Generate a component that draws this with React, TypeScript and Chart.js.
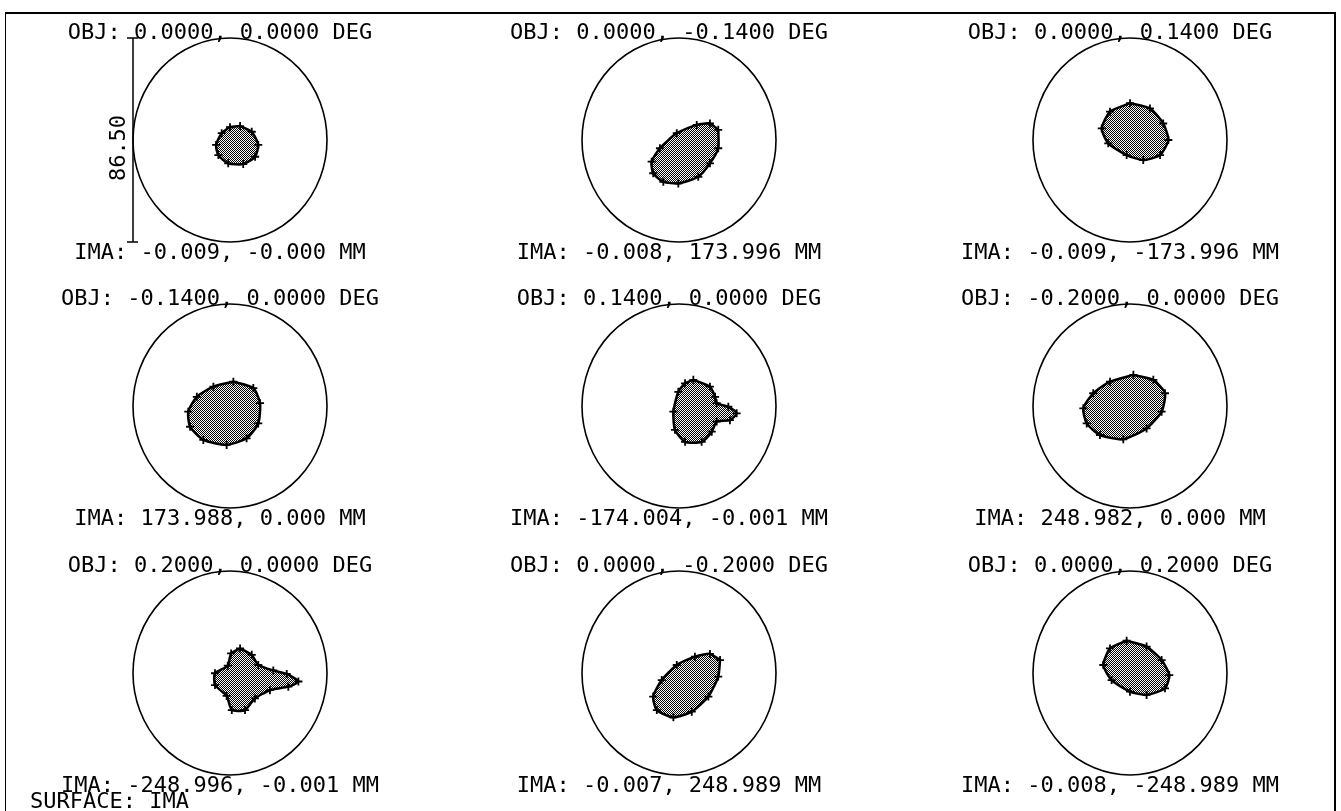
import React, { useEffect, useRef } from 'react';
import { Chart, registerables } from 'chart.js';

Chart.register(...registerables);

// ---------- data ----------
const AIRY_DIAMETER_UM = 86.5;
const SCALE_BAR_LABEL = '86.50';
const SURFACE_LABEL = 'SURFACE: IMA';

const OBJ_LABELS = [
  'OBJ: 0.0000, 0.0000 DEG',
  'OBJ: 0.0000, -0.1400 DEG',
  'OBJ: 0.0000, 0.1400 DEG',
  'OBJ: -0.1400, 0.0000 DEG',
  'OBJ: 0.1400, 0.0000 DEG',
  'OBJ: -0.2000, 0.0000 DEG',
  'OBJ: 0.2000, 0.0000 DEG',
  'OBJ: 0.0000, -0.2000 DEG',
  'OBJ: 0.0000, 0.2000 DEG',
];

const IMA_LABELS = [
  'IMA: -0.009, -0.000 MM',
  'IMA: -0.008, 173.996 MM',
  'IMA: -0.009, -173.996 MM',
  'IMA: 173.988, 0.000 MM',
  'IMA: -174.004, -0.001 MM',
  'IMA: 248.982, 0.000 MM',
  'IMA: -248.996, -0.001 MM',
  'IMA: -0.007, 248.989 MM',
  'IMA: -0.008, -248.989 MM',
];

// spot outlines, micrometres relative to the panel centre
const SPOT_1: number[][] = [
  [4.5, 5.9], [9.7, 3.5], [12.6, -2.1], [11.2, -7.1], [5.9, -10.2],
  [-0.8, -9.9], [-5.2, -6.4], [-6.2, -2.1], [-3.7, 2.9], [0.0, 5.4],
];
const SPOT_2: number[][] = [
  [17.5, 4.3], [13.8, 7.0], [7.9, 6.4], [-1.0, 2.9], [-8.5, -3.5], [-12.2, -9.2],
  [-11.5, -14.1], [-7.0, -17.7], [-0.3, -18.4], [8.6, -15.6], [13.8, -9.9], [17.5, -3.5],
];
const SPOT_3: number[][] = [
  [0.0, 15.6], [8.9, 13.4], [14.8, 7.0], [17.1, 0.0], [13.4, -6.4],
  [5.9, -8.5], [-1.5, -6.4], [-9.7, -1.4], [-12.6, 4.9], [-8.9, 12.0],
];
const SPOT_4: number[][] = [
  [1.5, 10.3], [10.4, 7.6], [13.4, 1.2], [12.6, -7.4], [7.4, -13.7], [-1.5, -16.5],
  [-11.9, -14.4], [-17.8, -8.8], [-18.6, -2.4], [-14.8, 3.9], [-7.4, 8.2],
];
const SPOT_5: number[][] = [
  [6.4, 11.1], [13.8, 8.2], [16.1, 3.9], [16.8, 1.2], [22.0, -0.3], [25.7, -3.1],
  [22.7, -6.0], [16.8, -6.6], [14.6, -10.9], [10.1, -15.2], [2.7, -15.2],
  [-1.8, -10.1], [-2.5, -2.4], [-0.3, 6.0], [2.7, 9.6],
];
const SPOT_6: number[][] = [
  [1.5, 13.2], [10.4, 11.1], [15.6, 5.4], [14.1, -2.4], [7.4, -9.5], [-3.0, -14.1],
  [-13.4, -12.3], [-19.3, -7.4], [-20.8, -1.0], [-16.4, 5.4], [-8.9, 10.3],
];
const SPOT_7: number[][] = [
  [4.5, 10.4], [9.7, 7.7], [12.6, 3.4], [19.3, 1.1], [25.3, -0.4], [30.5, -3.6],
  [26.0, -5.8], [17.8, -7.3], [11.1, -10.8], [6.7, -15.7], [0.8, -15.7],
  [-1.5, -9.7], [-6.7, -5.1], [-6.7, -0.1], [-1.0, 3.1], [0.5, 8.3],
];
const SPOT_8: number[][] = [
  [18.3, 5.5], [13.8, 8.1], [7.1, 6.9], [-1.0, 3.4], [-7.7, -3.0], [-11.5, -10.0],
  [-9.9, -15.7], [-2.5, -18.8], [5.7, -16.4], [13.1, -10.0], [17.5, -1.5],
];
const SPOT_9: number[][] = [
  [-1.5, 13.7], [7.4, 11.2], [14.1, 5.5], [17.5, -0.9], [15.6, -6.5],
  [7.4, -9.3], [0.0, -7.9], [-8.2, -3.0], [-11.9, 3.4], [-8.9, 10.4],
];

const SPOTS = [SPOT_1, SPOT_2, SPOT_3, SPOT_4, SPOT_5, SPOT_6, SPOT_7, SPOT_8, SPOT_9];

// ---------- layout ----------
const COL_X = [230, 679, 1130];
const ROW_Y = [140, 406, 673];
const PANEL_W = 450;
const PANEL_H = 266;
const CIRCLE_W = 194;
const CIRCLE_H = 204;
const TEXT_DX = -10;
const FONT = '22px "DejaVu Sans Mono", monospace';

function makePattern(): CanvasPattern | string {
  const pc = document.createElement('canvas');
  pc.width = 4;
  pc.height = 4;
  const g = pc.getContext('2d');
  if (!g) return '#555';
  g.fillStyle = '#ffffff';
  g.fillRect(0, 0, 4, 4);
  g.fillStyle = '#000000';
  for (let x = 0; x < 4; x++) {
    for (let y = 0; y < 4; y++) {
      if ((x + y) % 2 === 0 && !(x === 1 && y === 1) && !(x === 3 && y === 3)) g.fillRect(x, y, 1, 1);
      if ((x + y) % 4 === 0 || (x - y + 4) % 4 === 0) g.fillRect(x, y, 1, 1);
    }
  }
  const p = g.createPattern(pc, 'repeat');
  return p || '#555';
}

const spotPanelPlugin = {
  id: 'spotPanel',
  beforeDatasetsDraw(chart: any, _args: any, opts: any) {
    const { ctx } = chart;
    const xs = chart.scales.x;
    const ys = chart.scales.y;
    const R = AIRY_DIAMETER_UM / 2;
    const cx = xs.getPixelForValue(0);
    const cy = ys.getPixelForValue(0);
    const rx = xs.getPixelForValue(R) - cx;
    const top = ys.getPixelForValue(R);
    const bot = ys.getPixelForValue(-R);
    const ry = (bot - top) / 2;
    ctx.save();
    ctx.strokeStyle = '#000';
    ctx.lineWidth = 1.6;
    ctx.beginPath();
    ctx.ellipse(cx, cy, rx, ry, 0, 0, Math.PI * 2);
    ctx.stroke();

    ctx.fillStyle = '#000';
    ctx.font = FONT;
    ctx.textAlign = 'center';
    ctx.textBaseline = 'alphabetic';
    ctx.fillText(opts.obj, cx + TEXT_DX, top + 0.5);
    ctx.fillText(opts.ima, cx + TEXT_DX, bot + 16.5);

    if (opts.scaleBar) {
      const lx = xs.getPixelForValue(-R);
      ctx.lineWidth = 1.5;
      ctx.beginPath();
      ctx.moveTo(lx, top);
      ctx.lineTo(lx, bot);
      ctx.moveTo(lx - 6, top);
      ctx.lineTo(lx + 5, top);
      ctx.moveTo(lx - 6, bot);
      ctx.lineTo(lx + 5, bot);
      ctx.stroke();
      ctx.translate(lx - 8, cy + 8);
      ctx.rotate(-Math.PI / 2);
      ctx.textAlign = 'center';
      ctx.fillText(opts.scaleBar, 0, 0);
    }
    ctx.restore();
  },
};

function Panel({ index }: { index: number }) {
  const ref = useRef<HTMLCanvasElement>(null);

  useEffect(() => {
    const canvas = ref.current;
    if (!canvas) return;
    const pattern = makePattern();
    const pts = SPOTS[index];
    const data = [...pts, pts[0]].map(([x, y]) => ({ x, y }));
    const padX = (PANEL_W - CIRCLE_W) / 2;
    const padY = (PANEL_H - CIRCLE_H) / 2;
    const R = AIRY_DIAMETER_UM / 2;
    const chart = new Chart(canvas, {
      type: 'scatter',
      data: {
        datasets: [
          {
            data,
            showLine: true,
            fill: 'shape',
            backgroundColor: pattern as any,
            borderColor: '#000',
            borderWidth: 2.5,
            tension: 0.2,
            pointStyle: 'cross',
            pointRadius: (c: any) => (c.dataIndex === data.length - 1 ? 0 : 4),
            pointBorderColor: '#000',
            pointBorderWidth: 1.8,
          } as any,
        ],
      },
      options: {
        animation: false,
        responsive: false,
        maintainAspectRatio: false,
        layout: { padding: { left: padX, right: padX, top: padY, bottom: padY } },
        scales: {
          x: { type: 'linear', min: -R, max: R, display: false },
          y: { type: 'linear', min: -R, max: R, display: false },
        },
        plugins: {
          legend: { display: false },
          tooltip: { enabled: false },
          spotPanel: {
            obj: OBJ_LABELS[index],
            ima: IMA_LABELS[index],
            scaleBar: index === 0 ? SCALE_BAR_LABEL : '',
          },
        } as any,
      },
      plugins: [spotPanelPlugin as any],
    });
    return () => chart.destroy();
  }, [index]);

  const cx = COL_X[index % 3];
  const cy = ROW_Y[Math.floor(index / 3)];
  return (
    <canvas
      ref={ref}
      width={PANEL_W}
      height={PANEL_H}
      style={{
        position: 'absolute',
        left: cx - PANEL_W / 2,
        top: cy - PANEL_H / 2,
        width: PANEL_W,
        height: PANEL_H,
      }}
    />
  );
}

export default function App() {
  return (
    <div
      style={{
        position: 'fixed',
        left: 0,
        top: 0,
        width: 1341,
        height: 811,
        background: '#fff',
        overflow: 'hidden',
      }}
    >
      <div
        style={{
          position: 'absolute',
          left: 5,
          top: 12,
          width: 1331,
          height: 820,
          borderTop: '2px solid #000',
          borderLeft: '1.5px solid #000',
          borderRight: '2px solid #000',
          boxSizing: 'border-box',
        }}
      />
      {SPOTS.map((_, i) => (
        <Panel key={i} index={i} />
      ))}
      <div
        style={{
          position: 'absolute',
          left: 30,
          top: 790,
          font: FONT,
          lineHeight: '22px',
          color: '#000',
          whiteSpace: 'pre',
        }}
      >
        {SURFACE_LABEL}
      </div>
    </div>
  );
}
